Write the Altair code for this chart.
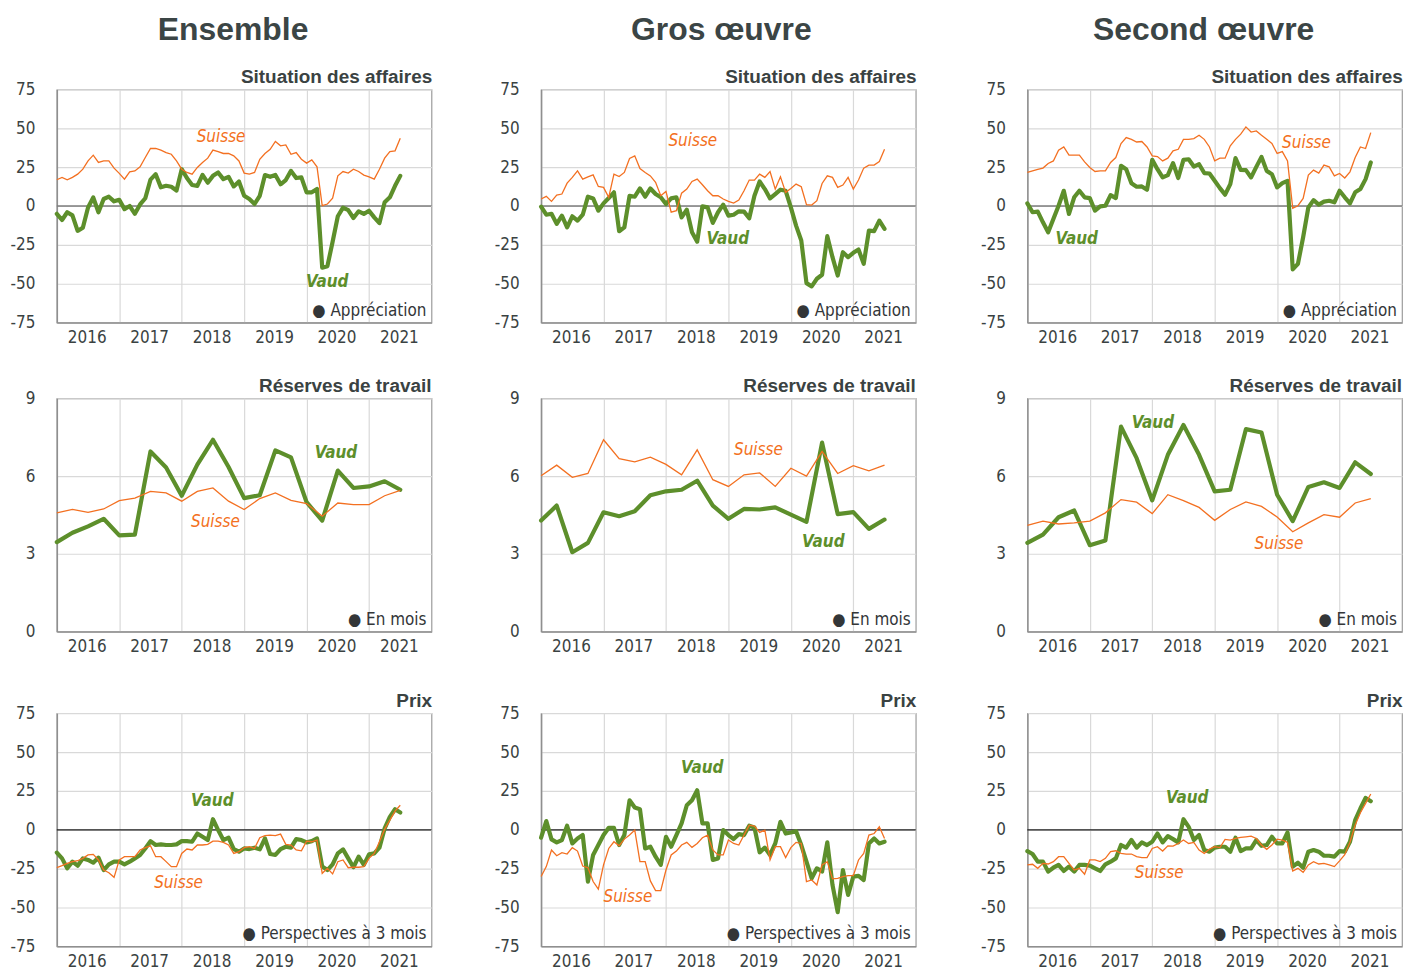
import altair as alt
import pandas as pd

# ---------------- data ----------------
N_M = 67  # monthly points, Jan 2016 .. Jul 2021
N_Q = 23  # quarterly points, Jan 2016 .. Jul 2021
months = [2016 + i / 12 for i in range(N_M)]
quarters = [2016 + i / 4 for i in range(N_Q)]
years = [2016, 2017, 2018, 2019, 2020, 2021]

# Situation des affaires
ens_sit_vaud = [-5, -9, -4, -6, -16, -14, -1, 5.5, -4, 4.5,
                6, 3, 4, -2, 0, -5, 1, 5, 17, 20.5,
                12, 13, 12.4, 10, 23.7, 18, 13.5, 13, 20, 15,
                19.4, 21.6, 17.3, 18.8, 12.6, 15.8, 6.6, 4.5, 1.3, 6.6,
                19.9, 18.8, 20, 14, 16.7, 22.6, 18, 18.4, 8.8, 8.8,
                11, -39.7, -38.7, -23, -6.6, -1, -2.6, -7.7, -3.4, -5.1,
                -3, -7.3, -11, 2.4, 5.6, 13, 19.4]
ens_sit_suisse = [16.9, 18.4, 16.9, 18.4, 20.5, 23.7, 29, 32.7, 28, 29,
                  29, 24.4, 21, 17.3, 22, 22.6, 25.2, 31.2, 37, 37,
                  36, 34.4, 33.3, 29, 23.7, 21.6, 20.5, 24.8, 28, 30.8,
                  36, 35, 33.8, 33.8, 32.3, 29, 21.2, 20.5, 21.6, 30.1,
                  33.8, 36.5, 41.5, 38.7, 39.3, 33.3, 34.4, 30.1, 27.6, 29.7,
                  25.2, 0.2, 1.3, 5.1, 19.4, 22.2, 21.2, 23.7, 22.2, 19.9,
                  18.8, 17.3, 23.7, 30.8, 35, 35.5, 43.6]
gros_sit_vaud = [-0.4, -5.6, -5, -11.5, -6.2, -13.7, -6.6, -9.4, -5.6, 6,
                 4.9, -3, 1.7, 5.1, 8.8, -16.2, -13.7, 6.6, 6, 11.3,
                 6, 11.3, 7.7, 5.6, 1.3, 4.9, 5.6, -7.3, -2.4, -16.9,
                 -22.9, -0.2, -0.9, -10.9, -4, 0.9, -6.2, -5.6, -3.4, -3.6,
                 -7.9, 6.6, 15.8, 10.9, 4.9, 7.7, 10.5, 9.8, -0.9, -12.6,
                 -22.2, -49.6, -51.7, -46.8, -44.2, -19.4, -32.9, -44.7, -29.7, -32.9,
                 -30.1, -28, -37.2, -15.8, -16.2, -9.4, -14.7]
gros_sit_suisse = [4.5, 6.2, 3, 7, 7.7, 14.7, 18.4, 22.6, 17.3, 18.8,
                   20, 12.6, 12, 5.6, 20.5, 19, 21.6, 30.6, 32.3, 24.1,
                   21.6, 19.4, 15.2, 6.6, 9.4, -4, -3, 8.3, 10.9, 15.8,
                   17.3, 13.7, 9.8, 6.6, 6.6, 4.5, 3, 1.9, 3.8, 9.8,
                   16.7, 16.7, 20.5, 18.4, 22.2, 10.9, 18.8, 8.8, 11.3, 14.1,
                   12.4, 0.9, 0.6, 3.4, 14.5, 19.4, 18.4, 12, 13.5, 18.4,
                   10.9, 16.7, 24.4, 26.3, 26.3, 28.6, 36.5]
sec_sit_vaud = [1.7, -4, -3.6, -10.5, -16.9, -8.3, 0.2, 9.8, -5.1, 5.6,
                9.8, 5.6, 5.1, -3, -0.2, 0.2, 7, 5.1, 25.9, 23.7,
                14.7, 12.4, 12.6, 10.5, 29.7, 23.7, 18.4, 19.9, 27.6, 18,
                29.7, 30.1, 25.4, 26.9, 21.2, 20.9, 16.2, 11.5, 7.3, 14.1,
                30.8, 23.3, 23.1, 18.4, 25.2, 31.6, 22.6, 20.5, 12, 14.7,
                16.2, -40.8, -37.2, -20.1, -0.9, 3.8, 0.9, 2.8, 3.4, 2.4,
                9.8, 5.6, 1.7, 8.8, 10.9, 17.3, 28]
sec_sit_suisse = [21.6, 22.6, 23.5, 24.4, 27.4, 29, 35.9, 38, 32.7, 32.7,
                  32.7, 28.4, 24.8, 22.2, 22.6, 22.6, 28, 31.2, 40.2, 44,
                  42.9, 41.2, 41.5, 38, 32.3, 31.8, 29, 30.8, 35.5, 36.5,
                  42.9, 42.9, 43.4, 45.5, 42.9, 38, 29, 30.8, 30.8, 38.7,
                  42.9, 46.2, 50.9, 47.6, 48.3, 45.5, 42.9, 40.2, 33.8, 35,
                  29, -1.5, 0.2, 4.9, 19.9, 23.1, 21.2, 26.3, 25.2, 19.4,
                  20.9, 18, 22, 31.2, 38, 37, 47.2]

# Réserves de travail (quarterly, months)
ens_res_vaud = [3.45, 3.81, 4.06, 4.35, 3.71, 3.74, 6.95, 6.33, 5.24, 6.44,
                7.4, 6.35, 5.15, 5.26, 6.99, 6.72, 4.99, 4.28, 6.21, 5.54,
                5.6, 5.8, 5.47]
ens_res_suisse = [4.58, 4.71, 4.6, 4.73, 5.05, 5.15, 5.41, 5.35, 5.03, 5.41,
                  5.54, 5.03, 4.71, 5.13, 5.35, 5.06, 4.94, 4.45, 4.96, 4.9,
                  4.9, 5.24, 5.45]
gros_res_vaud = [4.28, 4.86, 3.06, 3.42, 4.6, 4.45, 4.64, 5.26, 5.41, 5.47,
                 5.82, 4.86, 4.35, 4.73, 4.71, 4.79, 4.51, 4.23, 7.29, 4.53,
                 4.61, 3.96, 4.32]
gros_res_suisse = [6.01, 6.42, 5.95, 6.1, 7.4, 6.67, 6.55, 6.73, 6.45, 6.05,
                   7.01, 5.86, 5.6, 6.05, 6.12, 5.6, 6.3, 6.0, 6.95, 6.1,
                   6.4, 6.2, 6.42]
sec_res_vaud = [3.42, 3.74, 4.41, 4.67, 3.33, 3.51, 7.91, 6.69, 5.06, 6.82,
                7.97, 6.82, 5.41, 5.47, 7.81, 7.68, 5.28, 4.26, 5.58, 5.76,
                5.54, 6.53, 6.08]
sec_res_suisse = [4.1, 4.26, 4.15, 4.19, 4.26, 4.58, 5.09, 4.99, 4.55, 5.28,
                  5.05, 4.79, 4.29, 4.71, 5.0, 4.83, 4.42, 3.85, 4.19, 4.51,
                  4.41, 4.96, 5.13]

# Prix, perspectives à 3 mois
ens_prix_vaud = [-14.7, -18.4, -24.8, -20.5, -23.1, -18.4, -19.4, -21.2, -17.9, -25.9,
                 -22.2, -20.5, -20.5, -22.2, -20.5, -18.4, -16.2, -12, -7.3, -9.8,
                 -9.4, -9.8, -9.8, -9.4, -7.3, -7.3, -7.7, -2.4, -4.5, -6.6,
                 6.8, -0.2, -6.6, -5.1, -12.4, -14.1, -12, -12.4, -11.5, -12.6,
                 -5.6, -15.6, -16.2, -12.4, -10.9, -11.5, -6, -6.6, -8.1, -7.3,
                 -5.6, -23.7, -25.9, -22.2, -15.2, -12.6, -18.4, -24.1, -17.3, -22.6,
                 -15.8, -15.2, -11.5, 0.9, 8.3, 13.2, 11.1]
ens_prix_suisse = [-24.4, -23.1, -21.6, -20.5, -19.9, -18.4, -16.2, -15.8, -19.4, -25.9,
                   -27.6, -30.6, -19.4, -17.3, -17.3, -17.3, -13, -11.5, -10.3, -17.3,
                   -17.3, -20.5, -23.7, -23.7, -15.2, -12.4, -13, -9.8, -9.8, -9.4,
                   -7.3, -7.3, -8.1, -9.8, -15.2, -14.1, -11.5, -10.9, -12, -5.1,
                   -3.8, -3.4, -3.8, -2.8, -9.4, -9.8, -13, -13.5, -7.3, -7.7,
                   -6.6, -28, -24.8, -28.4, -20.5, -19.4, -24.4, -24.1, -24.1, -23.7,
                   -18.4, -15.2, -7.7, 0.4, 6.2, 12, 15.8]
gros_prix_vaud = [-5.1, 5.6, -6.2, -8.1, -6.6, 2.6, -8.8, -5.6, -3.4, -33.3,
                  -16.2, -9.8, -3.4, 1.3, 1.3, -9.8, -3.4, 19, 14.3, 13.2,
                  -12, -10.9, -17.3, -22.6, -4.5, -10.9, -3.4, 4.1, 15.8, 19,
                  25.4, 4.1, 4.1, -19.4, -18.4, -0.2, -3.4, -6, -2.8, -3.4,
                  2.6, 1.5, -14.5, -11.5, -16.2, -8.8, 5.1, -2.4, -1.7, -0.9,
                  -9.8, -20.5, -31.2, -24.8, -26.9, -8.1, -35.5, -53, -25.9, -41.9,
                  -30.1, -29.7, -32.3, -8.8, -5.6, -8.8, -7.7]
gros_prix_suisse = [-30.1, -23.7, -13, -16.7, -14.7, -15.6, -11.5, -13.7, -23.3, -24.4,
                    -33.3, -38.2, -22.6, -12, -7.7, -10.3, -6, -3.4, -0.2, -20.5,
                    -20.5, -32.9, -39.1, -39.1, -25.9, -16.2, -13.7, -9.8, -8.1, -11.3,
                    -8.8, -5.1, -3.4, -13, -16.2, -16.2, -6.6, -8.8, -9.8, -3.4,
                    3, 2.4, -1.7, -0.2, -19.4, -10.9, -10.9, -17.9, -11.5, -8.1,
                    -8.8, -33.3, -32.3, -35.5, -22.6, -20.5, -31.6, -31.2, -30.1, -29.5,
                    -29.5, -19.4, -15.2, -3.4, -2.4, 1.9, -5.6]
sec_prix_vaud = [-13.7, -15.6, -20.5, -20.5, -26.9, -24.4, -22.6, -26.5, -23.7, -26.9,
                 -22.6, -22.6, -23.1, -24.8, -26.5, -22.2, -20.5, -18.4, -9.8, -11.5,
                 -6.6, -11.5, -8.1, -9.8, -7.7, -2.4, -8.1, -4.1, -6, -8.1,
                 6.8, 1.9, -6.6, -3.4, -13, -14.1, -11.5, -10.9, -10.9, -14.1,
                 -5.1, -13.7, -12, -12, -6.6, -10.3, -9.8, -4.5, -8.8, -8.8,
                 -1.7, -23.7, -21.2, -24.4, -14.1, -13, -14.1, -16.7, -16.7, -17.3,
                 -13.7, -14.1, -7.7, 6.2, 13.7, 20.5, 18.4]
sec_prix_suisse = [-22.6, -22.2, -24.8, -21.6, -22, -20.5, -17.3, -17.3, -21.6, -25.9,
                   -24.8, -28.6, -19.4, -19.4, -20.5, -18.4, -14.1, -13.5, -15.2, -15.6,
                   -15.6, -17.3, -17.9, -17.9, -12, -10.9, -13.7, -10.3, -10.5, -8.8,
                   -6.6, -8.8, -8.1, -13, -15.2, -12.4, -10.9, -11.5, -6.2, -6.6,
                   -5.6, -4.9, -4.5, -4.1, -5.6, -9.8, -12.6, -9.8, -6, -6.6,
                   -8.1, -26.5, -24.8, -27.4, -22.6, -20.5, -22, -21.6, -22.6, -23.7,
                   -20, -16, -8, 3, 11, 17, 23]

# label positions (decimal year, value) for "Vaud" and "Suisse"
lab_pos = {
    "ens_sit": ((2020.33, -49.2), (2018.63, 44.4)),
    "gros_sit": ((2018.99, -21.0), (2018.43, 41.9)),
    "sec_sit": ((2016.79, -21.0), (2020.47, 40.6)),
    "ens_res": ((2020.47, 6.9), (2018.54, 4.24)),
    "gros_res": ((2020.52, 3.47), (2019.48, 7.0)),
    "sec_res": ((2018.01, 8.03), (2020.03, 3.38)),
    "ens_prix": ((2018.49, 18.8), (2017.95, -34.4)),
    "gros_prix": ((2018.58, 39.9), (2017.39, -43.4)),
    "sec_prix": ((2018.56, 20.5), (2018.11, -28.0)),
}

col_titles = ["Ensemble", "Gros œuvre", "Second œuvre"]
row_titles = ["Situation des affaires", "Réserves de travail", "Prix"]
row_legends = ["Appréciation", "En mois", "Perspectives à 3 mois"]

# ---------------- styling ----------------
FONT = "DejaVu Sans Condensed, sans-serif"
TFONT = "Liberation Sans, Arial, sans-serif"
GREEN = "#5d8f2b"
ORANGE = "#f37021"
TXT = "#3a4242"
W, H = 376, 234
LFS = 17  # tick label font size

YLABEL = "datum.value < 0 ? '-' + (-datum.value) : '' + datum.value"


def panel(xs, vaud, suisse, ydom, yticks, subtitle, legend, key, zero=None):
    df = pd.DataFrame({"x": xs, "vaud": vaud, "suisse": suisse})
    xsc = alt.Scale(domain=[2016, 2022], nice=False, zero=False)
    ysc = alt.Scale(domain=ydom, nice=False, zero=False)
    xax = alt.Axis(values=years, format="d", title=None)
    yax = alt.Axis(values=yticks, title=None, labelExpr=YLABEL)
    X = alt.X("x:Q", scale=xsc, axis=xax)
    layers = []
    if zero is not None:
        zdf = pd.DataFrame({"y": [0]})
        layers.append(alt.Chart(zdf).mark_rule(color=zero[0], strokeWidth=zero[1]).encode(
            y=alt.Y("y:Q", scale=ysc, axis=yax)))
    base = alt.Chart(df)
    layers.append(base.mark_line(color=GREEN, strokeWidth=4.2, strokeJoin="round", strokeCap="round").encode(
        x=X, y=alt.Y("vaud:Q", scale=ysc, axis=yax)))
    layers.append(base.mark_line(color=ORANGE, strokeWidth=1.3).encode(
        x=X, y=alt.Y("suisse:Q", scale=ysc, axis=yax)))
    (vx, vy), (sx, sy) = lab_pos[key]
    ldf = pd.DataFrame({"x": [vx, sx], "y": [vy, sy], "t": ["Vaud", "Suisse"]})
    layers.append(alt.Chart(ldf).transform_filter(alt.datum.t == "Vaud").mark_text(
        font=FONT, fontSize=17, fontStyle="italic", fontWeight="bold", color=GREEN).encode(
        x=X, y=alt.Y("y:Q", scale=ysc, axis=yax), text="t:N"))
    layers.append(alt.Chart(ldf).transform_filter(alt.datum.t == "Suisse").mark_text(
        font=FONT, fontSize=17, fontStyle="italic", color=ORANGE).encode(
        x=X, y=alt.Y("y:Q", scale=ysc, axis=yax), text="t:N"))
    gdf = pd.DataFrame({"t": ["● " + legend]})
    layers.append(alt.Chart(gdf).mark_text(
        font=FONT, fontSize=17, align="right", baseline="middle", color="#333638").encode(
        x=alt.value(W - 5), y=alt.value(H - 12), text="t:N"))
    return alt.layer(*layers).properties(
        width=W, height=H,
        title=alt.TitleParams(subtitle, anchor="end", font=TFONT, fontSize=19, fontWeight="bold",
                              color=TXT, offset=-7))


sit = [(ens_sit_vaud, ens_sit_suisse, "ens_sit"), (gros_sit_vaud, gros_sit_suisse, "gros_sit"),
       (sec_sit_vaud, sec_sit_suisse, "sec_sit")]
res = [(ens_res_vaud, ens_res_suisse, "ens_res"), (gros_res_vaud, gros_res_suisse, "gros_res"),
       (sec_res_vaud, sec_res_suisse, "sec_res")]
prix = [(ens_prix_vaud, ens_prix_suisse, "ens_prix"), (gros_prix_vaud, gros_prix_suisse, "gros_prix"),
        (sec_prix_vaud, sec_prix_suisse, "sec_prix")]

TICKS75 = [-75, -50, -25, 0, 25, 50, 75]
columns = []
for c in range(3):
    p1 = panel(months, sit[c][0], sit[c][1], [-75, 75], TICKS75, row_titles[0], row_legends[0], sit[c][2],
               zero=("#7d7d7d", 1.6))
    p2 = panel(quarters, res[c][0], res[c][1], [0, 9], [0, 3, 6, 9], row_titles[1], row_legends[1], res[c][2])
    p3 = panel(months, prix[c][0], prix[c][1], [-75, 75], TICKS75, row_titles[2], row_legends[2], prix[c][2],
               zero=("#1e1e1e", 1.2))
    col = alt.vconcat(alt.vconcat(p1, p2, spacing=30), p3, spacing=36,
                      title=alt.TitleParams(col_titles[c], anchor="middle", font=TFONT, fontSize=32,
                                            fontWeight="bold", color="#3b4545", offset=21,
                                            dx=[12, 16, 12][c]))
    columns.append(col)

chart = alt.hconcat(alt.hconcat(columns[0], columns[1], spacing=60), columns[2], spacing=62).properties(
    padding={"left": 1, "top": 4, "right": 0, "bottom": 0}
).configure_view(stroke="#9c9c9c", strokeWidth=1.2).configure_axis(
    grid=True, gridColor="#d9d9d9", gridWidth=1.2, ticks=False, tickSize=0,
    domainColor="#8f8f8f", domainWidth=1.5,
    labelFont=FONT, labelFontSize=LFS, labelColor=TXT,
).configure_axisX(labelOffset=30, labelFlush=False, labelOverlap=False, labelPadding=7, labelBound=False
).configure_axisY(labelPadding=22, labelOverlap=False)

chart.save("out.html", embed_options={"renderer": "svg", "actions": False})
